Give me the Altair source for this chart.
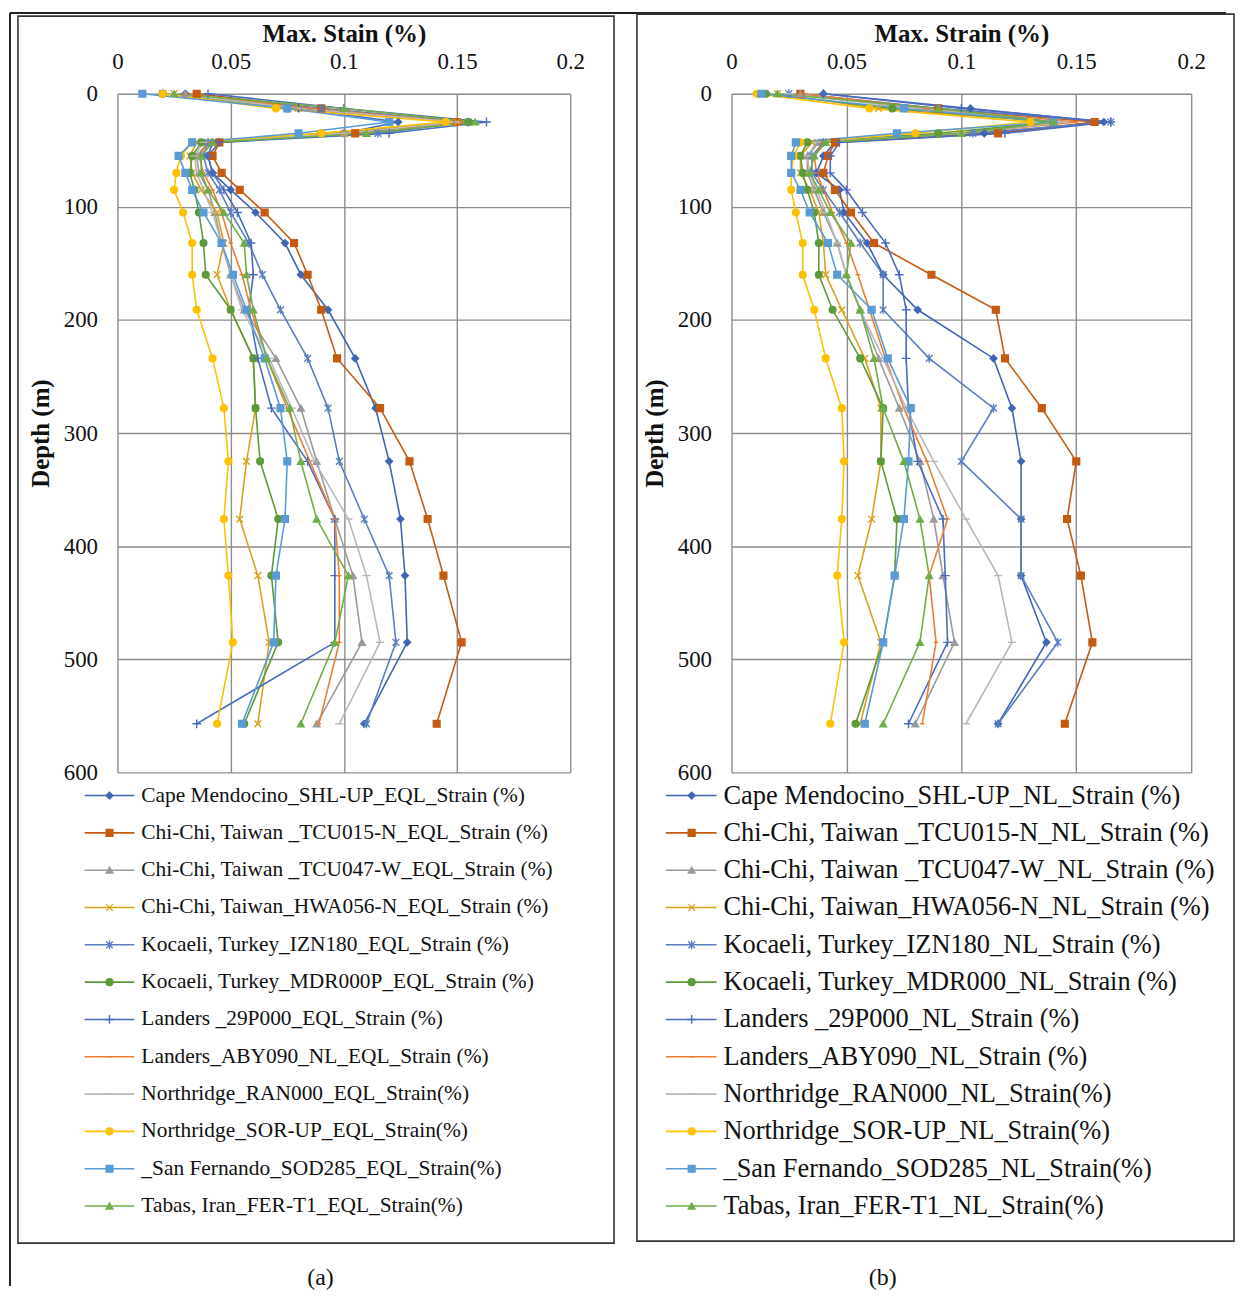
import altair as alt
import pandas as pd

# ---------------- data ----------------
DEPTHS = [0, 13, 25, 35, 43, 55, 70, 85, 105, 132, 160, 191, 234, 278, 325, 376, 426, 485, 557]

KEYS = ["s01", "s02", "s03", "s04", "s05", "s06", "s07", "s08", "s09", "s10", "s11", "s12"]

LABELS_A = [
    "Cape Mendocino_SHL-UP_EQL_Strain (%)",
    "Chi-Chi, Taiwan _TCU015-N_EQL_Strain (%)",
    "Chi-Chi, Taiwan _TCU047-W_EQL_Strain (%)",
    "Chi-Chi, Taiwan_HWA056-N_EQL_Strain (%)",
    "Kocaeli, Turkey_IZN180_EQL_Strain (%)",
    "Kocaeli, Turkey_MDR000P_EQL_Strain (%)",
    "Landers _29P000_EQL_Strain (%)",
    "Landers_ABY090_NL_EQL_Strain (%)",
    "Northridge_RAN000_EQL_Strain(%)",
    "Northridge_SOR-UP_EQL_Strain(%)",
    "_San Fernando_SOD285_EQL_Strain(%)",
    "Tabas, Iran_FER-T1_EQL_Strain(%)",
]
LABELS_B = [
    "Cape Mendocino_SHL-UP_NL_Strain (%)",
    "Chi-Chi, Taiwan _TCU015-N_NL_Strain (%)",
    "Chi-Chi, Taiwan _TCU047-W_NL_Strain (%)",
    "Chi-Chi, Taiwan_HWA056-N_NL_Strain (%)",
    "Kocaeli, Turkey_IZN180_NL_Strain (%)",
    "Kocaeli, Turkey_MDR000_NL_Strain (%)",
    "Landers _29P000_NL_Strain (%)",
    "Landers_ABY090_NL_Strain (%)",
    "Northridge_RAN000_NL_Strain(%)",
    "Northridge_SOR-UP_NL_Strain(%)",
    "_San Fernando_SOD285_NL_Strain(%)",
    "Tabas, Iran_FER-T1_NL_Strain(%)",
]

# Panel (a) - EQL
A_cape   = [0.030, 0.080, 0.124, 0.100, 0.042, 0.040, 0.042, 0.050, 0.061, 0.074, 0.081, 0.093, 0.105, 0.114, 0.120, 0.125, 0.127, 0.128, 0.109]
A_tcu015 = [0.035, 0.090, 0.150, 0.105, 0.045, 0.042, 0.046, 0.054, 0.065, 0.078, 0.084, 0.090, 0.097, 0.116, 0.129, 0.137, 0.144, 0.152, 0.141]
A_tcu047 = [0.030, 0.085, 0.155, 0.100, 0.040, 0.035, 0.036, 0.040, 0.043, 0.046, 0.050, 0.056, 0.070, 0.081, 0.088, 0.096, 0.104, 0.108, 0.088]
A_hwa056 = [0.025, 0.080, 0.150, 0.100, 0.035, 0.032, 0.033, 0.037, 0.044, 0.047, 0.044, 0.050, 0.060, 0.061, 0.057, 0.054, 0.062, 0.067, 0.062]
A_izn180 = [0.020, 0.090, 0.155, 0.115, 0.040, 0.038, 0.040, 0.045, 0.050, 0.058, 0.064, 0.072, 0.084, 0.093, 0.098, 0.109, 0.120, 0.123, 0.110]
A_mdr000 = [0.020, 0.075, 0.155, 0.090, 0.037, 0.033, 0.032, 0.034, 0.036, 0.038, 0.039, 0.050, 0.060, 0.061, 0.063, 0.071, 0.068, 0.071, 0.056]
A_29p000 = [0.040, 0.100, 0.163, 0.120, 0.045, 0.040, 0.042, 0.047, 0.053, 0.059, 0.060, 0.058, 0.062, 0.068, 0.084, 0.096, 0.096, 0.096, 0.035]
A_aby090 = [0.030, 0.085, 0.152, 0.100, 0.040, 0.036, 0.038, 0.042, 0.046, 0.050, 0.055, 0.059, 0.066, 0.075, 0.085, 0.096, 0.098, 0.098, 0.089]
A_ran000 = [0.025, 0.080, 0.150, 0.100, 0.038, 0.034, 0.035, 0.038, 0.042, 0.046, 0.050, 0.055, 0.067, 0.077, 0.087, 0.102, 0.110, 0.116, 0.098]
A_sor    = [0.020, 0.070, 0.145, 0.090, 0.033, 0.028, 0.026, 0.025, 0.029, 0.033, 0.033, 0.035, 0.042, 0.047, 0.049, 0.047, 0.049, 0.051, 0.044]
A_sod285 = [0.011, 0.075, 0.120, 0.080, 0.033, 0.027, 0.030, 0.033, 0.038, 0.046, 0.051, 0.057, 0.065, 0.072, 0.075, 0.074, 0.070, 0.069, 0.055]
A_fer    = [0.025, 0.100, 0.158, 0.110, 0.042, 0.037, 0.037, 0.040, 0.047, 0.056, 0.057, 0.060, 0.066, 0.076, 0.081, 0.088, 0.102, 0.096, 0.081]

# Panel (b) - NL
B_cape   = [0.040, 0.104, 0.162, 0.110, 0.045, 0.040, 0.037, 0.047, 0.049, 0.059, 0.066, 0.081, 0.114, 0.122, 0.126, 0.126, 0.126, 0.137, 0.116]
B_tcu015 = [0.030, 0.090, 0.158, 0.116, 0.045, 0.042, 0.040, 0.045, 0.052, 0.062, 0.087, 0.115, 0.119, 0.135, 0.150, 0.146, 0.152, 0.157, 0.145]
B_tcu047 = [0.030, 0.085, 0.140, 0.100, 0.038, 0.033, 0.033, 0.036, 0.040, 0.046, 0.050, 0.056, 0.064, 0.073, 0.082, 0.088, 0.092, 0.097, 0.080]
B_hwa056 = [0.020, 0.064, 0.140, 0.100, 0.035, 0.030, 0.030, 0.034, 0.038, 0.040, 0.041, 0.048, 0.058, 0.065, 0.065, 0.061, 0.055, 0.065, 0.056]
B_izn180 = [0.025, 0.090, 0.165, 0.105, 0.040, 0.035, 0.035, 0.040, 0.047, 0.056, 0.066, 0.066, 0.086, 0.114, 0.100, 0.126, 0.126, 0.142, 0.116]
B_mdr000 = [0.015, 0.070, 0.140, 0.090, 0.033, 0.030, 0.031, 0.033, 0.036, 0.038, 0.038, 0.044, 0.056, 0.066, 0.065, 0.072, 0.071, 0.066, 0.054]
B_29p000 = [0.040, 0.100, 0.165, 0.119, 0.047, 0.043, 0.043, 0.050, 0.057, 0.067, 0.073, 0.076, 0.076, 0.077, 0.081, 0.092, 0.093, 0.094, 0.077]
B_aby090 = [0.030, 0.085, 0.150, 0.100, 0.040, 0.036, 0.037, 0.040, 0.044, 0.050, 0.055, 0.060, 0.067, 0.075, 0.085, 0.094, 0.086, 0.089, 0.083]
B_ran000 = [0.025, 0.080, 0.145, 0.100, 0.037, 0.033, 0.034, 0.037, 0.041, 0.046, 0.050, 0.056, 0.066, 0.076, 0.088, 0.102, 0.116, 0.122, 0.102]
B_sor    = [0.011, 0.060, 0.130, 0.080, 0.030, 0.027, 0.026, 0.026, 0.028, 0.031, 0.031, 0.036, 0.041, 0.048, 0.049, 0.048, 0.046, 0.049, 0.043]
B_sod285 = [0.013, 0.075, 0.140, 0.072, 0.028, 0.026, 0.026, 0.030, 0.034, 0.042, 0.046, 0.061, 0.068, 0.078, 0.077, 0.075, 0.071, 0.066, 0.058]
B_fer    = [0.020, 0.090, 0.140, 0.100, 0.041, 0.036, 0.034, 0.038, 0.043, 0.052, 0.050, 0.056, 0.062, 0.066, 0.075, 0.082, 0.086, 0.082, 0.066]

SERIES_A = [A_cape, A_tcu015, A_tcu047, A_hwa056, A_izn180, A_mdr000, A_29p000, A_aby090, A_ran000, A_sor, A_sod285, A_fer]
SERIES_B = [B_cape, B_tcu015, B_tcu047, B_hwa056, B_izn180, B_mdr000, B_29p000, B_aby090, B_ran000, B_sor, B_sod285, B_fer]

X_TICKS = [0, 0.05, 0.1, 0.15, 0.2]
Y_TICKS = [0, 100, 200, 300, 400, 500, 600]

# ---------------- styles ----------------
COLORS = ["#3F66B5", "#C55A11", "#9A9A9A", "#D9A21E", "#5A7FC0", "#5C9A3A",
          "#4A6CC0", "#ED7D31", "#B8B8B8", "#FFC000", "#5B9BD5", "#70AD47"]
SHAPES = [
    "diamond",
    "square",
    "triangle-up",
    "M-1,-1L1,1M-1,1L1,-1",
    "M-1,-1L1,1M-1,1L1,-1M0,-1.3L0,1.3",
    "circle",
    "M-1.3,0L1.3,0M0,-1.3L0,1.3",
    "M-0.7,0L0.7,0",
    "M-1.2,0L1.2,0",
    "circle",
    "square",
    "triangle-up",
]
SERIF = "Liberation Serif"
MSIZE = 46

color_scale = alt.Scale(domain=KEYS, range=COLORS)
shape_scale = alt.Scale(domain=KEYS, range=SHAPES)


def to_long(series_list):
    rows = []
    for k, vals in zip(KEYS, series_list):
        for d, v in zip(DEPTHS, vals):
            rows.append({"key": k, "depth": d, "strain": v})
    return pd.DataFrame(rows)


deco_df = pd.DataFrame({"k": [0]})


def make_plot(series_list, xtitle, w, h, frame, caption, outer=False):
    df = to_long(series_list)
    x = alt.X("strain:Q",
              scale=alt.Scale(domain=[0, 0.2], nice=False, zero=False),
              axis=alt.Axis(orient="top", values=X_TICKS, format="~g", title=xtitle,
                            labelPadding=20, titlePadding=4, labelFlush=False))
    y = alt.Y("depth:Q",
              scale=alt.Scale(domain=[0, 600], reverse=True, nice=False, zero=False),
              axis=alt.Axis(values=Y_TICKS, format="d", title="Depth (m)",
                            labelPadding=20, titlePadding=10, labelFlush=False))
    lines = alt.Chart(df).mark_line(strokeWidth=1.6).encode(
        x=x, y=y,
        color=alt.Color("key:N", scale=color_scale, legend=None),
        order=alt.Order("depth:Q"),
    )
    pts = alt.Chart(df).mark_point(filled=True, size=MSIZE, strokeWidth=1.4, opacity=1).encode(
        x=x, y=y,
        fill=alt.Fill("key:N", scale=color_scale, legend=None),
        stroke=alt.Stroke("key:N", scale=color_scale, legend=None),
        shape=alt.Shape("key:N", scale=shape_scale, legend=None),
    )
    fx1, fx2, fy1, fy2 = frame
    box = alt.Chart(deco_df).mark_rect(fillOpacity=0, stroke="#333333", strokeWidth=1.6).encode(
        x=alt.value(fx1), x2=alt.value(fx2), y=alt.value(fy1), y2=alt.value(fy2))
    ctext, cx, cy = caption
    cap = alt.Chart(deco_df).mark_text(text=ctext, font=SERIF, fontSize=24, color="#111111").encode(
        x=alt.value(cx), y=alt.value(cy))
    layers = [lines, pts, box, cap]
    if outer:
        top_line = alt.Chart(deco_df).mark_rule(color="#222222", strokeWidth=2).encode(
            x=alt.value(-108), x2=alt.value(1114), y=alt.value(-81))
        left_line = alt.Chart(deco_df).mark_rule(color="#222222", strokeWidth=2).encode(
            x=alt.value(-108), y=alt.value(-81), y2=alt.value(1198))
        layers += [top_line, left_line]
    return alt.layer(*layers).properties(width=w, height=h)


def make_legend(labels, w, leg):
    lx1, lx2, lxm, lxt, lfs = leg
    leg_df = pd.DataFrame({"key": KEYS, "label": labels, "idx": list(range(len(KEYS)))})
    ly = alt.Y("idx:Q", scale=alt.Scale(domain=[-0.62, 11.38], nice=False, zero=False, reverse=True),
               axis=None)
    lrule = alt.Chart(leg_df).mark_rule(strokeWidth=1.6).encode(
        x=alt.value(lx1), x2=alt.value(lx2), y=ly,
        color=alt.Color("key:N", scale=color_scale, legend=None))
    lpt = alt.Chart(leg_df).mark_point(filled=True, size=MSIZE, strokeWidth=1.4, opacity=1).encode(
        x=alt.value(lxm), y=ly,
        fill=alt.Fill("key:N", scale=color_scale, legend=None),
        stroke=alt.Stroke("key:N", scale=color_scale, legend=None),
        shape=alt.Shape("key:N", scale=shape_scale, legend=None))
    ltxt = alt.Chart(leg_df).mark_text(align="left", baseline="middle", font=SERIF,
                                       fontSize=lfs, color="#111111").encode(
        x=alt.value(lxt), y=ly, text="label:N")
    return alt.layer(lrule, lpt, ltxt).properties(width=w, height=450)


plot_a = make_plot(SERIES_A, "Max. Stain (%)", 455, 682, (-100, 499, -78, 1155), ("(a)", 204, 1190), outer=True)
plot_b = make_plot(SERIES_B, "Max. Strain (%)", 462, 682, (-95, 505, -80, 1153), ("(b)", 152, 1190))
leg_a = make_legend(LABELS_A, 455, (-33, 17, -8, 24, 21.5))
leg_b = make_legend(LABELS_B, 462, (-66, -15, -40, -8, 26.5))

chart = alt.concat(plot_a, plot_b, leg_a, leg_b, columns=2,
                   spacing={"row": 0, "column": 162}, bounds="flush").properties(
    padding={"left": 1, "top": 1, "right": 0, "bottom": 0}
).configure_view(stroke=None).configure_axis(
    labelFont=SERIF, labelFontSize=23, labelColor="#111111",
    titleFont=SERIF, titleFontSize=25, titleFontWeight="bold", titleColor="#111111",
    gridColor="#8c8c8c", gridWidth=1.4, gridOpacity=1,
    domain=False, ticks=False, tickSize=0,
)

chart.save("out.html", embed_options={"renderer": "svg", "actions": False})
